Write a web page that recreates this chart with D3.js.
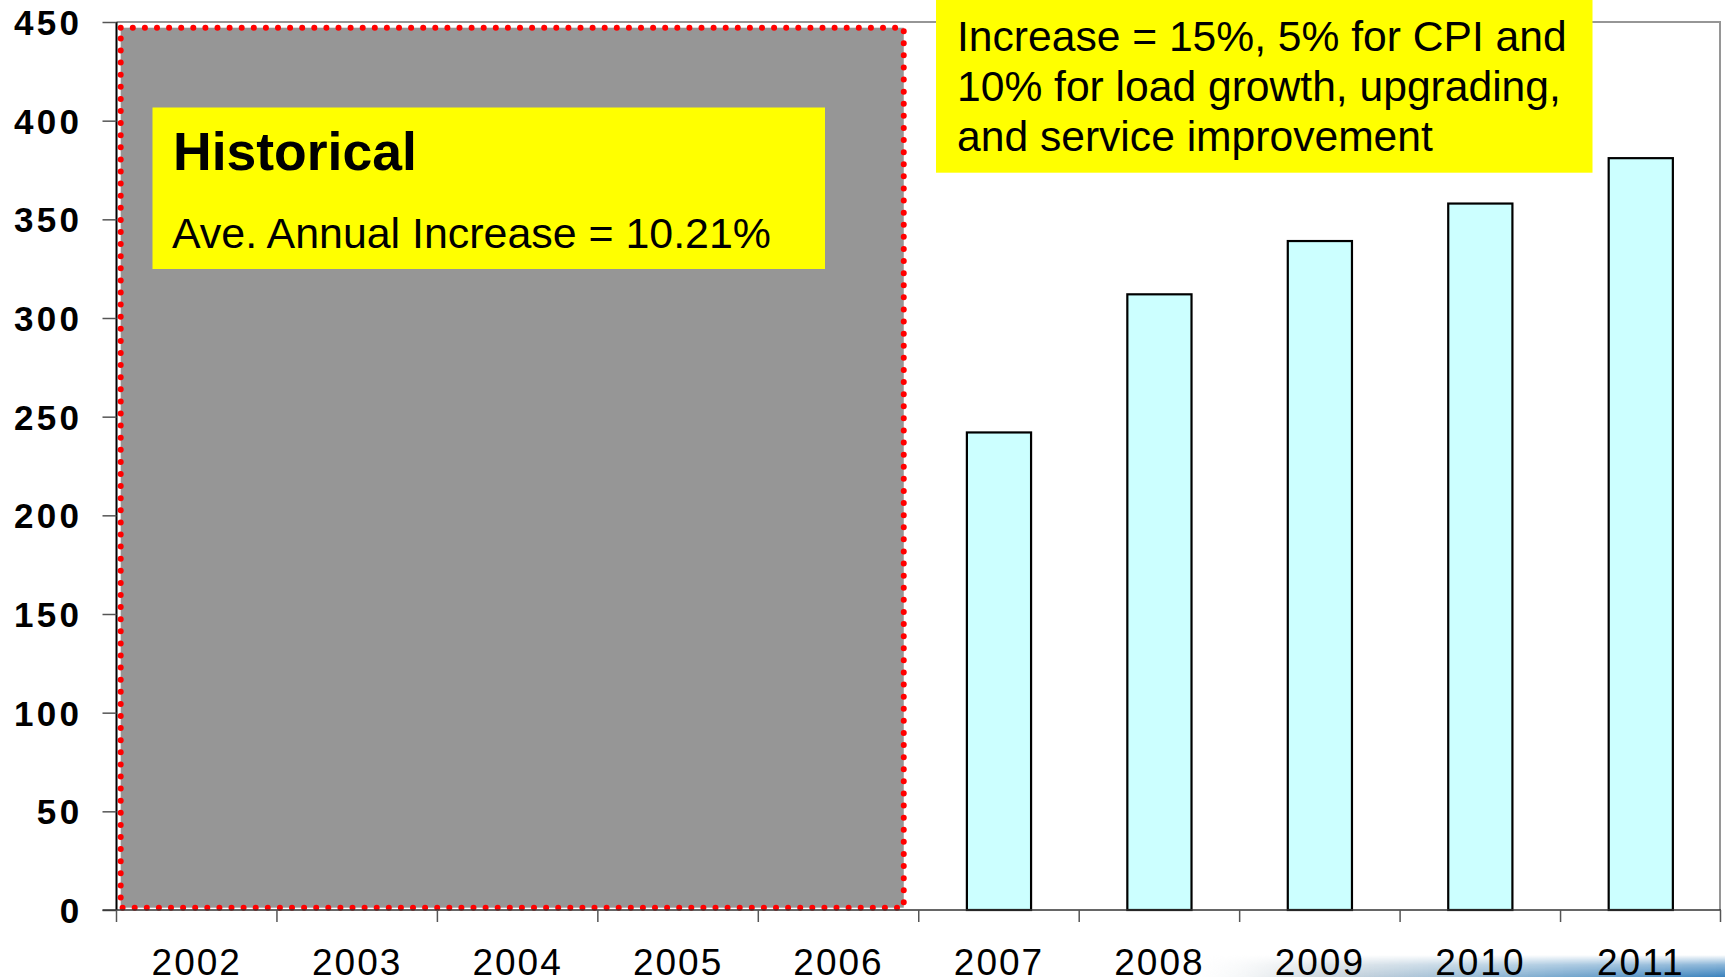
<!DOCTYPE html>
<html>
<head>
<meta charset="utf-8">
<script src="https://cdn.jsdelivr.net/npm/d3@7"></script>
<style>
  html, body { margin: 0; padding: 0; background: #ffffff; }
  svg { display: block; }
  text { font-family: "Liberation Sans", Arial, sans-serif; }
</style>
</head>
<body>
<svg id="chart" width="1725" height="977"></svg>
<script>
// Fiscal years on the category axis
const years = ["2002", "2003", "2004", "2005", "2006", "2007", "2008", "2009", "2010", "2011"];
// Historical years are covered by the shaded panel; projected years carry values
const historicalYears = ["2002", "2003", "2004", "2005", "2006"];
const projectedYears = ["2007", "2008", "2009", "2010", "2011"];
const projectedValues = [242, 312, 339, 358, 381];
// Value axis ticks
const yTicks = [0, 50, 100, 150, 200, 250, 300, 350, 400, 450];
// Annotation text
const historicalTitle = "Historical";
const historicalNote = "Ave. Annual Increase = 10.21%";
const projectionNote = ["Increase = 15%, 5% for CPI and", "10% for load growth, upgrading,", "and service improvement"];

const svg = d3.select("#chart");
const W = 1725, H = 977;
const plot = { left: 116.5, right: 1721, top: 22, bottom: 910 };

const x = d3.scaleBand().domain(years).range([plot.left, plot.right]).padding(0);
const y = d3.scaleLinear().domain([0, 450]).range([plot.bottom, plot.top]);
const bw = x.bandwidth();

// Faint slide backdrop along the bottom edge
const defs = svg.append("defs");
const g1 = defs.append("linearGradient").attr("id", "strip").attr("x1", "0").attr("x2", "1").attr("y1", "0").attr("y2", "0");
g1.append("stop").attr("offset", "0%").attr("stop-color", "#ffffff").attr("stop-opacity", 0);
g1.append("stop").attr("offset", "25%").attr("stop-color", "#c3ced6").attr("stop-opacity", 0.8);
g1.append("stop").attr("offset", "60%").attr("stop-color", "#86b1d1").attr("stop-opacity", 0.95);
g1.append("stop").attr("offset", "100%").attr("stop-color", "#3a82bd").attr("stop-opacity", 1);
const g2 = defs.append("linearGradient").attr("id", "fadeV").attr("x1", "0").attr("x2", "0").attr("y1", "0").attr("y2", "1");
g2.append("stop").attr("offset", "0%").attr("stop-color", "#fff").attr("stop-opacity", 0);
g2.append("stop").attr("offset", "45%").attr("stop-color", "#fff").attr("stop-opacity", 0.6);
g2.append("stop").attr("offset", "100%").attr("stop-color", "#fff").attr("stop-opacity", 1);
const mask = defs.append("mask").attr("id", "stripMask");
mask.append("rect").attr("x", 1180).attr("y", 955).attr("width", W - 1180).attr("height", H - 955).attr("fill", "url(#fadeV)");
svg.append("rect").attr("x", 1180).attr("y", 955).attr("width", W - 1180).attr("height", H - 955)
  .attr("fill", "url(#strip)").attr("mask", "url(#stripMask)");

// Plot frame (top and right edges)
svg.append("path")
  .attr("d", `M${plot.left},${plot.top}H${plot.right - 1}V${plot.bottom}`)
  .attr("fill", "none").attr("stroke", "#969696").attr("stroke-width", 2);

// Projected bars
const proj = projectedYears.map((yr, i) => ({ year: yr, value: projectedValues[i] }));
svg.append("g").selectAll("rect").data(proj).join("rect")
  .attr("x", d => x(d.year) + bw * 0.3)
  .attr("width", bw * 0.4)
  .attr("y", d => y(d.value))
  .attr("height", d => y(0) - y(d.value))
  .attr("fill", "#ccffff")
  .attr("stroke", "#000")
  .attr("stroke-width", 2.2);

// Shaded historical panel with a red dotted outline
const hx0 = x(historicalYears[0]) + 4.2;
const hx1 = x(historicalYears[historicalYears.length - 1]) + bw - 15;
const hy0 = y(450) + 5.7;
const hy1 = y(0) - 2.3;
svg.append("rect")
  .attr("x", hx0).attr("y", hy0).attr("width", hx1 - hx0).attr("height", hy1 - hy0)
  .attr("fill", "#969696");
svg.append("rect")
  .attr("x", hx0).attr("y", hy0).attr("width", hx1 - hx0).attr("height", hy1 - hy0)
  .attr("fill", "none").attr("stroke", "#ff0000").attr("stroke-width", 6)
  .attr("stroke-linecap", "round").attr("stroke-dasharray", "0 12.1");

// Y axis
const yAxis = svg.append("g").attr("transform", `translate(${plot.left},0)`)
  .call(d3.axisLeft(y).tickValues(yTicks).tickSize(14).tickPadding(0).tickFormat(d3.format("d")));
yAxis.select(".domain").attr("stroke", "#000").attr("stroke-width", 2)
  .attr("d", `M0,${plot.top}V${plot.bottom}`);
yAxis.selectAll(".tick line").attr("stroke", "#555").attr("stroke-width", 1.5);
yAxis.selectAll(".tick text")
  .attr("x", -34).attr("dy", "0.36em")
  .attr("font-family", "'Liberation Sans', Arial, sans-serif")
  .attr("font-size", 35).attr("font-weight", "bold")
  .attr("letter-spacing", "3.4px").attr("fill", "#000");

// X axis
const xAxis = svg.append("g").attr("transform", `translate(0,${plot.bottom})`)
  .call(d3.axisBottom(x).tickSize(0).tickPadding(0));
xAxis.select(".domain").attr("stroke", "#333").attr("stroke-width", 1.5)
  .attr("d", `M${plot.left - 14},0H${plot.right}`);
xAxis.selectAll(".tick text")
  .attr("y", 64.5).attr("dy", 0).attr("dx", 0)
  .attr("font-family", "'Liberation Sans', Arial, sans-serif")
  .attr("font-size", 37).attr("letter-spacing", "2px").attr("fill", "#000");
// Category boundary ticks
const boundaries = years.map(d => x(d)).concat([plot.right - 0.5]);
xAxis.append("g").selectAll("line").data(boundaries).join("line")
  .attr("x1", d => d).attr("x2", d => d).attr("y1", 0).attr("y2", 12)
  .attr("stroke", "#555").attr("stroke-width", 1.5);

// Historical annotation
const hb = svg.append("g");
hb.append("rect").attr("x", 152.5).attr("y", 107.5).attr("width", 672.5).attr("height", 161.5).attr("fill", "#ffff00");
hb.append("text").attr("x", 173).attr("y", 170).attr("font-size", 53.5).attr("font-weight", "bold").text(historicalTitle);
hb.append("text").attr("x", 172).attr("y", 248).attr("font-size", 42.9).text(historicalNote);

// Projection annotation
const pb = svg.append("g");
pb.append("rect").attr("x", 936).attr("y", 0).attr("width", 656.5).attr("height", 172.7).attr("fill", "#ffff00");
pb.selectAll("text").data(projectionNote).join("text")
  .attr("x", 957).attr("y", (d, i) => 51 + i * 50)
  .attr("font-size", 42.6).text(d => d);
</script>
</body>
</html>
